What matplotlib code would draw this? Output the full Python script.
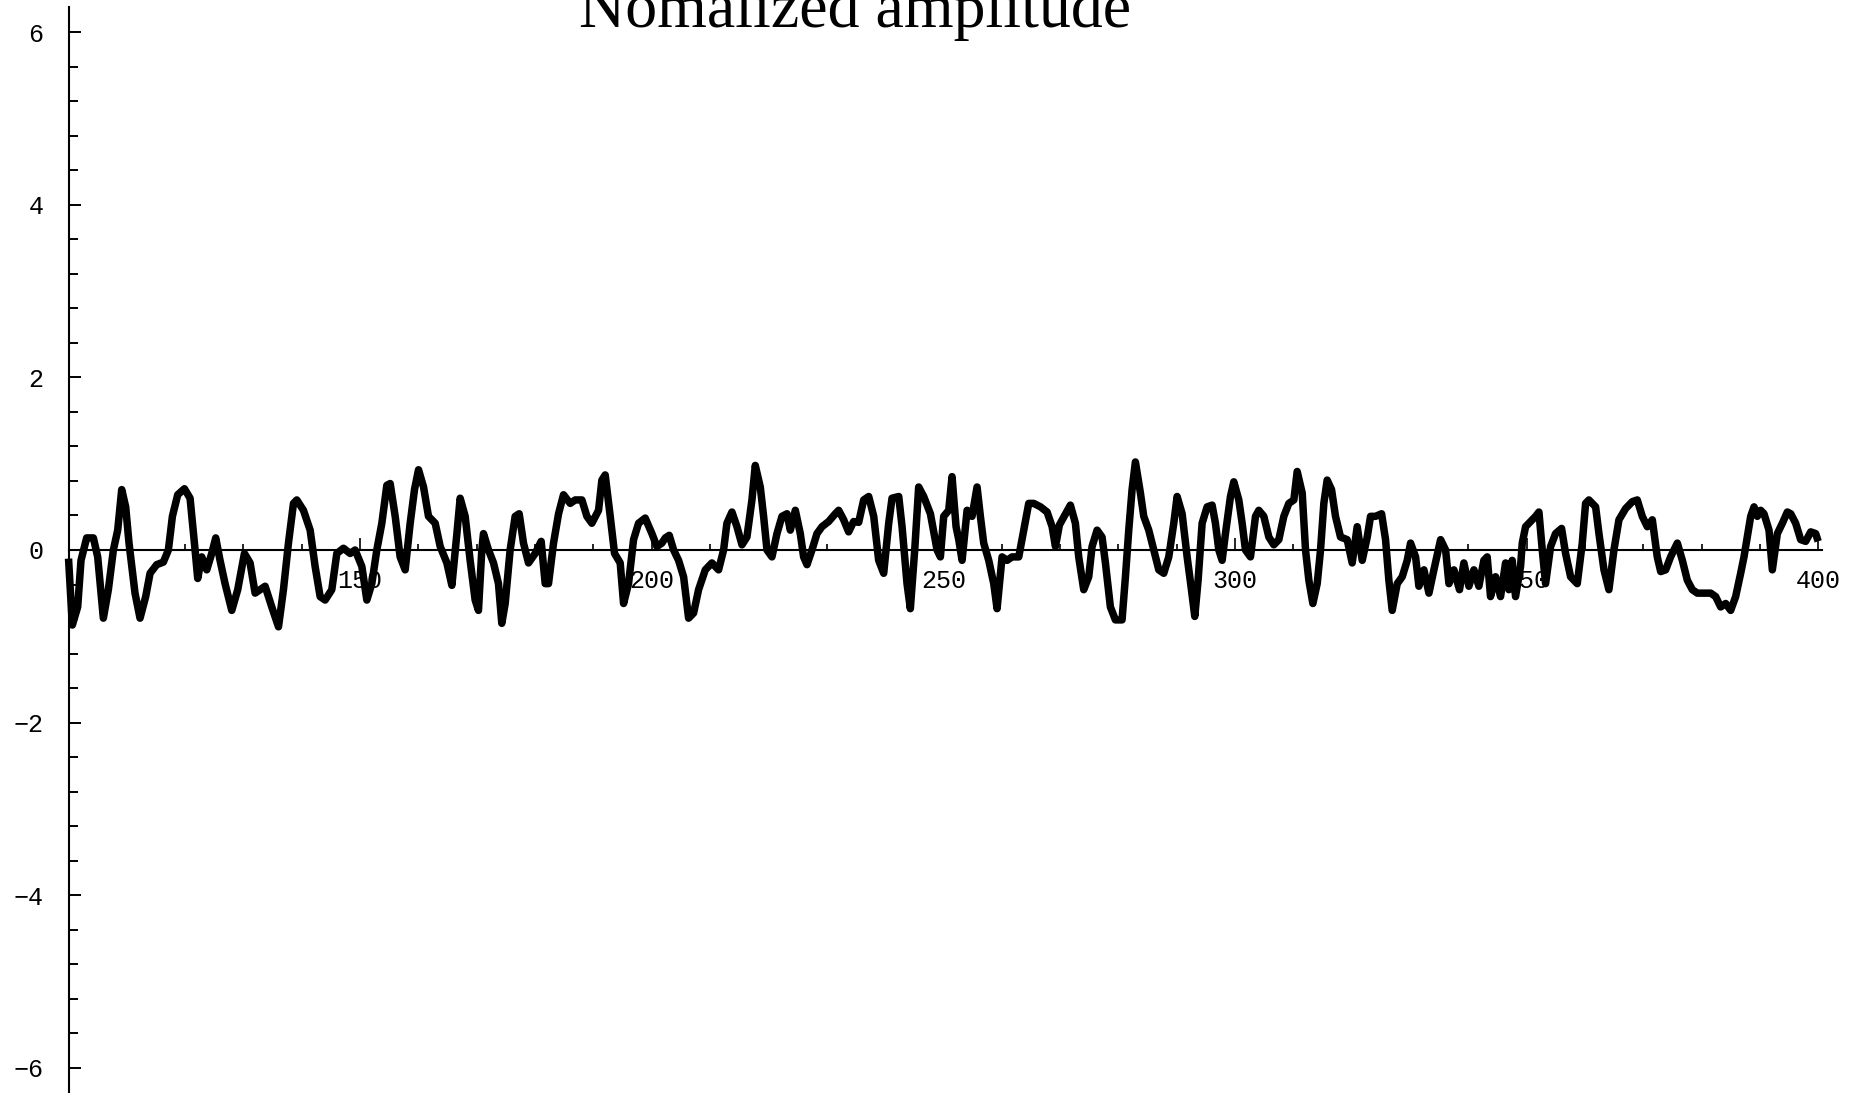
import matplotlib
matplotlib.use("Agg")
import matplotlib.pyplot as plt
from matplotlib.ticker import FixedLocator

# Normalized amplitude trace (sample index, amplitude)
sample = [
    100.0, 100.65, 101.57, 102.14, 103.11, 104.26, 105.00, 105.97, 106.83, 107.69,
    108.43, 109.12, 109.80, 110.37, 111.40, 112.26, 113.23, 113.98, 115.12, 116.26,
    117.12, 117.81, 118.72, 119.87, 120.84, 121.70, 122.15, 122.84, 123.70, 124.55,
    125.24, 125.98, 126.84, 127.99, 129.01, 130.16, 131.13, 131.99, 132.85, 133.71,
    134.85, 136.00, 136.85, 137.71, 138.57, 139.14, 140.28, 141.43, 142.28, 143.14,
    144.00, 145.14, 146.00, 147.14, 148.29, 149.14, 150.29, 151.15, 152.00, 152.86,
    153.72, 154.58, 155.15, 156.01, 156.86, 157.72, 158.58, 159.32, 160.01, 160.87,
    161.72, 162.87, 163.73, 164.87, 165.73, 166.59, 167.15, 168.01, 168.86, 169.72,
    170.29, 170.86, 171.15, 172.01, 172.87, 173.72, 174.29, 174.87, 175.72, 176.58,
    177.27, 178.01, 178.87, 180.01, 181.04, 181.73, 182.30, 183.16, 184.02, 184.87,
    186.02, 186.88, 188.02, 188.88, 189.73, 190.88, 191.45, 192.02, 192.88, 193.62,
    194.59, 195.17, 196.02, 196.88, 197.74, 198.88, 200.03, 200.88, 201.74, 202.32,
    203.00, 203.75, 204.60, 205.46, 206.32, 207.18, 208.03, 209.18, 210.32, 211.46,
    212.32, 212.89, 213.75, 214.61, 215.47, 216.32, 217.18, 217.75, 218.61, 219.18,
    219.76, 220.61, 221.47, 222.33, 223.19, 223.76, 224.62, 225.47, 226.04, 226.62,
    227.47, 228.33, 229.19, 230.33, 231.48, 232.05, 232.91, 233.76, 234.62, 235.48,
    236.34, 237.20, 238.06, 238.91, 239.77, 240.63, 241.20, 242.35, 242.92, 243.77,
    244.34, 245.09, 245.77, 246.63, 247.78, 248.92, 249.49, 250.06, 250.92, 251.49,
    252.18, 252.64, 253.21, 254.07, 254.92, 255.78, 256.35, 256.92, 257.78, 258.64,
    259.21, 260.07, 260.93, 261.78, 262.93, 263.79, 264.64, 265.50, 266.65, 267.79,
    268.65, 269.22, 269.90, 271.78, 272.64, 273.21, 274.07, 274.93, 275.50, 276.36,
    277.21, 277.79, 278.64, 279.50, 280.64, 281.22, 281.79, 282.36, 282.93, 283.79,
    284.36, 285.22, 286.37, 286.94, 287.79, 288.65, 289.51, 290.08, 290.94, 291.80,
    292.54, 293.11, 293.68, 294.37, 295.23, 296.08, 296.65, 297.23, 297.80, 298.37,
    299.23, 299.80, 300.66, 301.23, 301.80, 302.66, 303.52, 304.09, 304.95, 305.81,
    306.66, 307.52, 308.38, 309.24, 310.10, 310.67, 311.53, 312.10, 312.67, 313.36,
    314.10, 314.67, 315.24, 315.81, 316.56, 317.24, 318.10, 319.24, 320.10, 320.96,
    321.82, 322.68, 323.25, 324.10, 325.14, 325.82, 326.39, 326.96, 327.82, 328.68,
    329.54, 330.11, 330.97, 331.54, 332.40, 333.26, 334.11, 335.26, 336.12, 336.69,
    337.54, 338.50, 339.25, 340.11, 340.97, 341.82, 342.68, 343.25, 343.82, 344.68,
    345.54, 346.40, 346.97, 347.54, 348.11, 348.97, 349.26, 349.83, 350.69, 351.54,
    352.12, 352.69, 353.26, 354.12, 354.97, 356.00, 356.69, 357.55, 358.69, 359.55,
    360.12, 360.69, 361.84, 362.41, 363.27, 364.12, 364.98, 365.84, 366.98, 368.13,
    368.98, 369.84, 370.70, 371.56, 372.41, 373.00, 373.85, 374.70, 375.85, 376.71,
    377.56, 378.42, 379.28, 380.42, 381.57, 382.42, 383.28, 384.14, 385.00, 385.85,
    386.71, 387.28, 387.85, 388.43, 389.00, 389.57, 390.14, 390.71, 391.57, 392.14,
    393.00, 393.86, 394.71, 395.29, 396.14, 397.00, 397.86, 398.72, 399.57, 400.0,
]
amplitude = [
    -0.10, -0.87, -0.66, -0.12, 0.14, 0.14, -0.08, -0.79, -0.46, 0.00,
    0.23, 0.70, 0.50, 0.08, -0.50, -0.79, -0.54, -0.27, -0.17, -0.14,
    0.00, 0.39, 0.64, 0.71, 0.60, 0.00, -0.33, -0.08, -0.23, -0.04,
    0.14, -0.12, -0.39, -0.70, -0.46, -0.04, -0.15, -0.50, -0.46, -0.42,
    -0.66, -0.89, -0.46, 0.08, 0.54, 0.58, 0.46, 0.23, -0.19, -0.54,
    -0.58, -0.46, -0.04, 0.02, -0.04, 0.00, -0.19, -0.58, -0.39, 0.00,
    0.31, 0.75, 0.77, 0.39, -0.08, -0.23, 0.31, 0.70, 0.93, 0.73,
    0.39, 0.31, 0.04, -0.15, -0.41, 0.19, 0.60, 0.39, -0.12, -0.58,
    -0.70, 0.00, 0.19, 0.00, -0.15, -0.39, -0.85, -0.62, 0.00, 0.39,
    0.42, 0.08, -0.15, -0.04, 0.10, -0.39, -0.39, 0.08, 0.42, 0.64,
    0.54, 0.58, 0.58, 0.39, 0.31, 0.46, 0.81, 0.87, 0.39, -0.04,
    -0.15, -0.62, -0.39, 0.12, 0.31, 0.37, 0.19, 0.04, 0.08, 0.14,
    0.17, 0.00, -0.12, -0.31, -0.79, -0.73, -0.46, -0.23, -0.15, -0.23,
    0.00, 0.31, 0.44, 0.27, 0.06, 0.15, 0.58, 0.98, 0.73, 0.39,
    0.00, -0.08, 0.19, 0.39, 0.42, 0.23, 0.46, 0.19, -0.08, -0.17,
    0.00, 0.19, 0.27, 0.33, 0.42, 0.46, 0.35, 0.21, 0.33, 0.32,
    0.58, 0.62, 0.39, -0.12, -0.27, 0.31, 0.60, 0.62, 0.27, -0.39,
    -0.68, 0.00, 0.73, 0.62, 0.42, 0.00, -0.08, 0.39, 0.46, 0.85,
    0.27, 0.12, -0.12, 0.46, 0.39, 0.73, 0.39, 0.08, -0.12, -0.39,
    -0.68, -0.08, -0.12, -0.08, -0.08, 0.23, 0.54, 0.54, 0.50, 0.44,
    0.27, 0.04, 0.29, 0.52, 0.31, -0.08, -0.46, -0.31, 0.04, 0.23,
    0.15, -0.15, -0.66, -0.81, -0.81, -0.31, 0.23, 0.70, 1.02, 0.66,
    0.39, 0.23, -0.08, -0.23, -0.27, -0.08, 0.31, 0.62, 0.42, -0.08,
    -0.46, -0.77, -0.35, 0.31, 0.50, 0.52, 0.31, 0.00, -0.12, 0.19,
    0.62, 0.79, 0.58, 0.31, 0.00, -0.08, 0.39, 0.46, 0.39, 0.15,
    0.06, 0.12, 0.39, 0.54, 0.58, 0.91, 0.66, 0.00, -0.35, -0.62,
    -0.39, 0.00, 0.54, 0.81, 0.70, 0.39, 0.15, 0.12, -0.15, 0.27,
    -0.12, 0.15, 0.39, 0.39, 0.42, 0.12, -0.35, -0.70, -0.39, -0.31,
    -0.12, 0.08, -0.08, -0.42, -0.23, -0.50, -0.23, 0.12, 0.00, -0.39,
    -0.23, -0.46, -0.15, -0.42, -0.23, -0.42, -0.12, -0.08, -0.54, -0.31,
    -0.54, -0.15, -0.46, -0.12, -0.54, -0.19, 0.08, 0.27, 0.33, 0.39,
    0.44, 0.00, -0.39, 0.04, 0.19, 0.25, -0.04, -0.31, -0.39, 0.08,
    0.54, 0.58, 0.50, 0.19, -0.23, -0.46, 0.00, 0.35, 0.48, 0.56,
    0.58, 0.39, 0.27, 0.35, -0.08, -0.25, -0.23, -0.08, 0.08, -0.12,
    -0.35, -0.46, -0.50, -0.50, -0.50, -0.54, -0.66, -0.62, -0.70, -0.54,
    -0.27, -0.08, 0.15, 0.39, 0.50, 0.39, 0.46, 0.42, 0.23, -0.23,
    0.19, 0.31, 0.44, 0.42, 0.31, 0.12, 0.10, 0.21, 0.19, 0.10,
]

x_major = [150, 200, 250, 300, 350, 400]
x_minor = [110, 120, 130, 140, 160, 170, 180, 190, 210, 220, 230, 240,
           260, 270, 280, 290, 310, 320, 330, 340, 360, 370, 380, 390]
y_major = [-6, -4, -2, 0, 2, 4, 6]
y_minor = [-5.6, -5.2, -4.8, -4.4, -3.6, -3.2, -2.8, -2.4, -1.6, -1.2, -0.8, -0.4,
           0.4, 0.8, 1.2, 1.6, 2.4, 2.8, 3.2, 3.6, 4.4, 4.8, 5.2, 5.6]
title = "Nomalized amplitude"

W, H, DPI = 1859, 1093, 100
fig = plt.figure(figsize=(W / DPI, H / DPI), dpi=DPI, facecolor="white")
ax = fig.add_axes([0, 0, 1, 1])
ax.set_facecolor("white")

ax.plot(sample, amplitude, color="black", lw=5.4, solid_joinstyle="round",
        solid_capstyle="butt", zorder=3, clip_on=False)

ax.set_xlim(88.25, 407.0)
ax.set_ylim(-6.292, 6.373)

for side in ("top", "right"):
    ax.spines[side].set_visible(False)
ax.spines["left"].set_position(("data", 100))
ax.spines["bottom"].set_position(("data", 0))
ax.spines["left"].set_bounds(-6.4, 6.29)
ax.spines["bottom"].set_bounds(100, 400.6)
for side in ("left", "bottom"):
    ax.spines[side].set_linewidth(1.5)
    ax.spines[side].set_color("black")

mono = "Liberation Mono"
ax.xaxis.set_major_locator(FixedLocator(x_major))
ax.xaxis.set_minor_locator(FixedLocator(x_minor))
ax.yaxis.set_major_locator(FixedLocator(y_major))
ax.yaxis.set_minor_locator(FixedLocator(y_minor))
ax.set_xticklabels([str(v) for v in x_major])
ax.set_yticklabels([str(v).replace("-", "\u2212") for v in y_major])

ax.tick_params(axis="x", which="major", direction="in", length=8.6, width=1.2,
               pad=14, labelsize=18)
ax.tick_params(axis="x", which="minor", direction="in", length=4.3, width=1.2)
ax.tick_params(axis="y", which="major", direction="in", length=8.8, width=1.4,
               pad=18, labelsize=18)
ax.tick_params(axis="y", which="minor", direction="in", length=6.6, width=1.4)
for lab in ax.get_xticklabels() + ax.get_yticklabels():
    lab.set_fontfamily(mono)

# Title sits at the very top edge of the canvas
fig.text(855 / W, 1 - 27 / H, title, ha="center", va="baseline",
         fontsize=46, family="Liberation Serif", color="black")

fig.savefig("out.png", dpi=DPI, facecolor="white")
